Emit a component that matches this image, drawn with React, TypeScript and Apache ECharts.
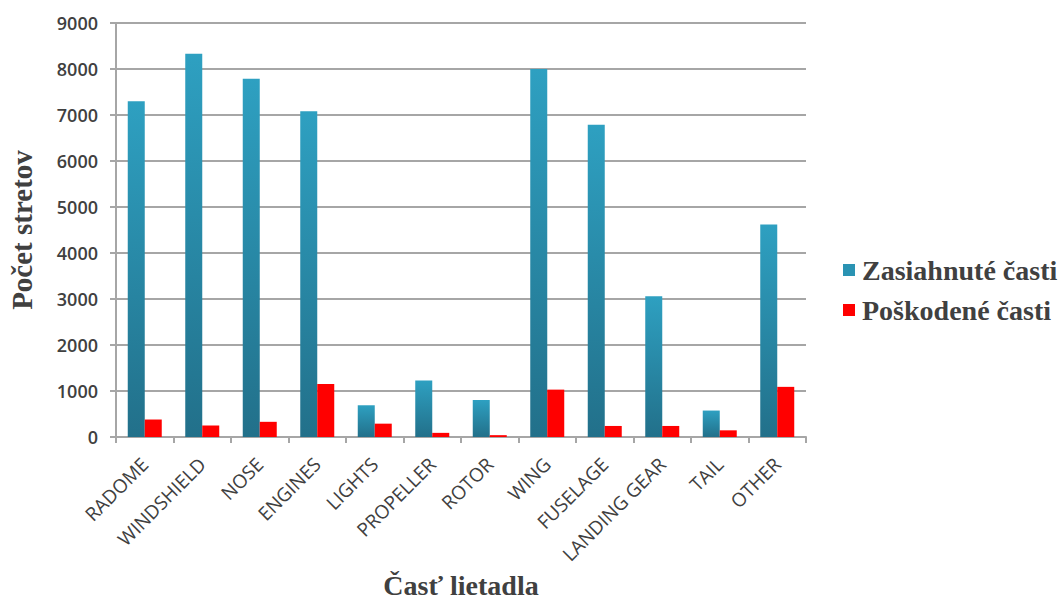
import React, { useEffect, useRef } from "react";
import * as echarts from "echarts";

const categories = [
  "RADOME", "WINDSHIELD", "NOSE", "ENGINES", "LIGHTS", "PROPELLER",
  "ROTOR", "WING", "FUSELAGE", "LANDING GEAR", "TAIL", "OTHER",
];
const zasiahnute = [7300, 8330, 7790, 7080, 690, 1230, 805, 8000, 6790, 3060, 575, 4620];
const poskodene = [380, 250, 330, 1150, 290, 90, 40, 1030, 240, 240, 145, 1090];
const yTicks = { min: 0, max: 9000, interval: 1000 };

export default function App() {
  const ref = useRef<HTMLDivElement>(null);
  useEffect(() => {
    if (!ref.current) return;
    const chart = echarts.init(ref.current, undefined, { renderer: "svg" });
    const gray = "#A6A6A6";
    const textColor = "#404040";
    chart.setOption({
      animation: false,
      backgroundColor: "#ffffff",
      grid: {
        left: 116, right: 258, top: 23, bottom: 162,
        containLabel: false, outerBoundsMode: "none",
      },
      legend: {
        orient: "vertical",
        left: 838,
        top: 251,
        itemWidth: 12,
        itemHeight: 12,
        itemGap: 12,
        icon: "rect",
        textStyle: {
          fontFamily: "Liberation Serif",
          fontWeight: "bold",
          fontSize: 28,
          lineHeight: 28,
          color: textColor,
          padding: [0, 0, 0, 2],
        },
        data: [
          { name: "Zasiahnuté časti", itemStyle: { color: "#2A93B3" } },
          { name: "Poškodené časti", itemStyle: { color: "#FF0000" } },
        ],
      },
      xAxis: {
        type: "category",
        data: categories,
        name: "Časť lietadla",
        nameLocation: "middle",
        nameGap: 134,
        nameMoveOverlap: false,
        nameTextStyle: {
          fontFamily: "Liberation Serif",
          fontWeight: "bold",
          fontSize: 28,
          lineHeight: 28,
          color: textColor,
        },
        axisLine: { show: true, lineStyle: { color: gray, width: 2 } },
        axisTick: { show: true, length: 6, lineStyle: { color: gray, width: 2 } },
        axisLabel: {
          rotate: 45,
          interval: 0,
          margin: 24,
          fontFamily: "Open Sans",
          fontSize: 19,
          color: textColor,
        },
      },
      yAxis: {
        type: "value",
        min: yTicks.min,
        max: yTicks.max,
        interval: yTicks.interval,
        name: "Počet stretov",
        nameLocation: "middle",
        nameGap: 80,
        nameMoveOverlap: false,
        nameTextStyle: {
          fontFamily: "Liberation Serif",
          fontWeight: "bold",
          fontSize: 29,
          color: textColor,
        },
        axisLine: { show: true, lineStyle: { color: gray, width: 2 } },
        axisTick: { show: true, length: 6, lineStyle: { color: gray, width: 2 } },
        splitLine: { show: true, lineStyle: { color: gray, width: 2 } },
        axisLabel: {
          margin: 18,
          fontFamily: "Open Sans",
          fontWeight: 600,
          fontSize: 18,
          color: textColor,
          formatter: (v: number) => String(v),
        },
      },
      series: [
        {
          name: "Zasiahnuté časti",
          type: "bar",
          data: zasiahnute,
          barWidth: 17,
          barGap: "0%",
          itemStyle: {
            color: new echarts.graphic.LinearGradient(0, 0, 0, 1, [
              { offset: 0, color: "#2EA0C1" },
              { offset: 1, color: "#22708A" },
            ]),
          },
        },
        {
          name: "Poškodené časti",
          type: "bar",
          data: poskodene,
          barWidth: 17,
          barGap: "0%",
          itemStyle: { color: "#FF0000" },
        },
      ],
    });
    return () => chart.dispose();
  }, []);
  return <div ref={ref} style={{ width: 1064, height: 599, position: "absolute", left: 0, top: 0 }} />;
}
